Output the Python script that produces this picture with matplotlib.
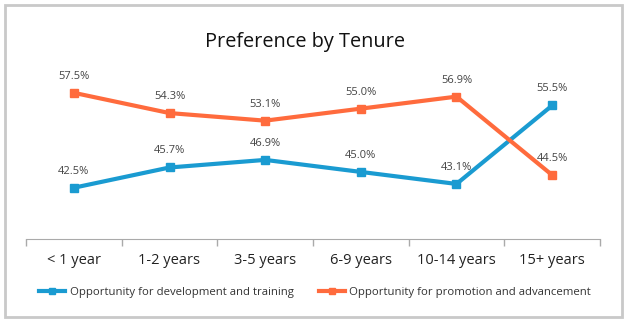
import matplotlib.pyplot as plt
from matplotlib.patches import Rectangle

plt.rcParams['font.family'] = ['Open Sans', 'DejaVu Sans']

categories = ['< 1 year', '1-2 years', '3-5 years', '6-9 years', '10-14 years', '15+ years']
development = [42.5, 45.7, 46.9, 45.0, 43.1, 55.5]
promotion = [57.5, 54.3, 53.1, 55.0, 56.9, 44.5]
series_names = ['Opportunity for development and training',
                'Opportunity for promotion and advancement']

blue = '#1a9bd1'
orange = '#ff6b3d'

W, H = 629, 325
fig = plt.figure(figsize=(W / 100, H / 100), dpi=100)

# gray frame round the whole chart
fig.patches.append(Rectangle((5 / W, 8 / H), 617 / W, 312 / H, transform=fig.transFigure,
                             fill=False, edgecolor='#c9c9c9', linewidth=2))

ax = fig.add_axes([26 / W, 1 - 239 / H, 574 / W, 162 / H])
x = list(range(len(categories)))

for vals, col, name in [(development, blue, series_names[0]), (promotion, orange, series_names[1])]:
    ax.plot(x, vals, color=col, linewidth=3, marker='s', markersize=6, label=name)
    for xi, v in zip(x, vals):
        ax.annotate(f'{v:.1f}%', (xi, v), xytext=(0, 8), textcoords='offset points',
                    ha='center', va='bottom', fontsize=8, color='#444444')

ax.set_xlim(-0.5, len(categories) - 0.5)
ax.set_ylim(34.4, 60)
ax.set_yticks([])
ax.set_xticks(x)
ax.set_xticklabels(categories, fontsize=10.5, color='#222222')
ax.set_xticks([i - 0.5 for i in range(len(categories) + 1)], minor=True)
ax.tick_params(axis='x', which='major', length=0, pad=10)
ax.tick_params(axis='x', which='minor', length=5, color='#aaaaaa', width=1)
for s in ['top', 'left', 'right']:
    ax.spines[s].set_visible(False)
ax.spines['bottom'].set_color('#aaaaaa')

fig.text(305 / W, 1 - 42 / H, 'Preference by Tenure', ha='center', va='center',
         fontsize=14.3, color='#111111')

leg = fig.legend(loc='center', bbox_to_anchor=(315 / W, 1 - 292 / H), ncol=2, frameon=False,
                 fontsize=8.2, handlelength=2.3, columnspacing=2.2, handletextpad=0.4)
for t in leg.get_texts():
    t.set_color('#333333')
for h in leg.legend_handles:
    h.set_markersize(4)

fig.savefig('out.png', dpi=100)
